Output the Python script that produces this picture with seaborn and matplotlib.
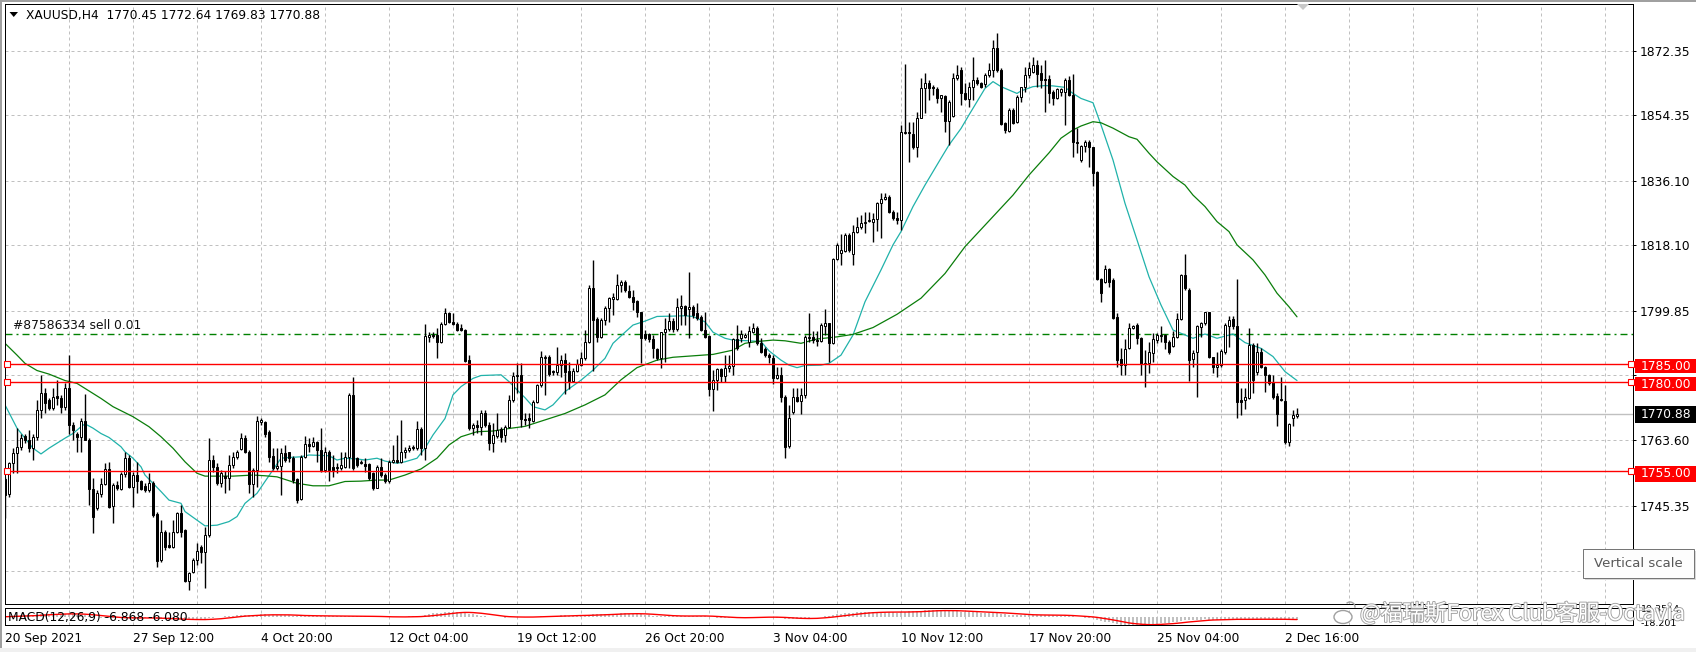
import numpy as np
import pandas as pd
import matplotlib
matplotlib.use("Agg")
import matplotlib.pyplot as plt
import matplotlib.patheffects as pe
import matplotlib.transforms as mtransforms
from matplotlib.patches import Rectangle, Polygon, Ellipse, Arc
import seaborn as sns

# XAUUSD H4 candles, bar 0 = 20 Sep 2021
opens = [
    1752.7, 1748.5, 1757.4, 1760.0, 1761.6, 1764.8, 1763.7, 1761.4, 1764.4, 1772.1,
    1776.7, 1774.9, 1772.5, 1776.0, 1775.5, 1772.8, 1778.1, 1767.9, 1765.5, 1764.4,
    1769.0, 1763.7, 1749.9, 1744.6, 1748.6, 1751.4, 1755.5, 1745.3, 1751.1, 1749.9,
    1754.2, 1758.8, 1750.7, 1753.9, 1752.1, 1750.8, 1749.7, 1751.6, 1742.9, 1730.2,
    1738.1, 1734.4, 1733.9, 1738.1, 1743.2, 1738.5, 1724.4, 1726.7, 1730.2, 1733.9,
    1732.5, 1737.2, 1758.1, 1756.2, 1751.6, 1753.7, 1753.0, 1756.7, 1759.0, 1761.1,
    1764.2, 1760.4, 1751.4, 1755.3, 1768.8, 1768.8, 1766.0, 1759.2, 1755.8, 1756.5,
    1760.0, 1760.2, 1758.6, 1752.7, 1747.2, 1759.0, 1762.7, 1762.1, 1763.2, 1760.9,
    1755.3, 1760.4, 1756.2, 1755.8, 1755.8, 1756.2, 1759.0, 1776.3, 1758.6, 1757.2,
    1756.9, 1756.9, 1754.4, 1750.4, 1756.2, 1753.9, 1752.1, 1757.6, 1758.1, 1757.6,
    1760.2, 1760.9, 1761.7, 1761.4, 1766.9, 1761.5, 1792.6, 1793.0, 1793.0, 1791.0,
    1796.0, 1799.1, 1796.7, 1796.0, 1794.9, 1794.4, 1786.0, 1767.1, 1767.9, 1767.4,
    1771.1, 1767.9, 1762.8, 1764.9, 1766.9, 1765.1, 1767.4, 1774.9, 1781.6, 1781.9,
    1769.6, 1769.7, 1769.0, 1774.4, 1779.1, 1786.5, 1787.0, 1783.0, 1782.6, 1784.6,
    1786.0, 1782.9, 1780.2, 1782.9, 1784.6, 1786.5, 1791.0, 1806.1, 1797.5, 1792.6,
    1797.2, 1800.5, 1803.1, 1803.1, 1807.0, 1807.7, 1805.3, 1803.7, 1802.5, 1799.4,
    1793.2, 1793.2, 1791.9, 1789.1, 1786.5, 1793.8, 1794.7, 1796.9, 1794.7, 1800.7,
    1801.1, 1800.3, 1800.9, 1799.1, 1798.1, 1794.4, 1792.8, 1778.0, 1780.5, 1783.5,
    1781.7, 1783.7, 1784.5, 1791.9, 1792.1, 1792.6, 1791.2, 1793.9, 1794.9, 1790.7,
    1789.1, 1787.4, 1786.7, 1781.1, 1781.9, 1775.8, 1762.1, 1771.4, 1775.8, 1774.6,
    1776.4, 1792.1, 1792.6, 1791.6, 1791.3, 1795.6, 1796.3, 1790.7, 1814.2, 1815.8,
    1816.5, 1821.0, 1815.7, 1821.7, 1823.3, 1824.2, 1824.9, 1824.7, 1825.3, 1829.8,
    1831.0, 1831.7, 1827.5, 1825.6, 1825.1, 1849.4, 1849.8, 1849.1, 1845.4, 1853.7,
    1861.9, 1863.3, 1862.3, 1861.7, 1859.1, 1859.9, 1852.8, 1854.3, 1864.7, 1867.0,
    1860.5, 1858.9, 1862.4, 1864.3, 1863.3, 1863.0, 1865.6, 1867.0, 1873.3, 1867.0,
    1852.1, 1850.0, 1855.9, 1852.4, 1859.6, 1862.2, 1865.6, 1866.6, 1868.4, 1866.1,
    1864.5, 1864.5, 1861.0, 1859.1, 1861.0, 1861.0, 1864.3, 1860.1, 1847.0, 1841.9,
    1845.8, 1847.0, 1845.5, 1838.6, 1808.6, 1807.9, 1811.4, 1808.4, 1798.0, 1786.2,
    1784.6, 1789.3, 1794.9, 1795.8, 1792.1, 1784.9, 1785.3, 1788.1, 1791.6, 1792.8,
    1793.0, 1791.2, 1790.0, 1792.6, 1797.4, 1809.8, 1805.6, 1786.2, 1788.4, 1795.2,
    1796.3, 1799.4, 1786.8, 1784.0, 1784.6, 1788.4, 1795.4, 1797.4, 1795.5, 1774.9,
    1775.0, 1775.3, 1790.2, 1782.8, 1788.4, 1784.2, 1781.9, 1780.0, 1776.0, 1775.1,
    1774.7, 1763.2, 1769.7, 1770.45,
]
highs = [
    1753.4, 1757.6, 1761.4, 1767.0, 1765.5, 1765.5, 1766.5, 1765.5, 1774.9, 1781.9,
    1778.1, 1775.3, 1778.1, 1780.5, 1776.3, 1779.5, 1787.4, 1768.8, 1766.0, 1769.8,
    1776.5, 1764.2, 1753.0, 1749.7, 1753.0, 1757.2, 1757.6, 1751.6, 1752.1, 1754.8,
    1760.4, 1759.5, 1754.8, 1757.6, 1752.6, 1751.6, 1754.4, 1752.1, 1743.7, 1741.3,
    1738.5, 1738.1, 1741.3, 1743.7, 1745.5, 1738.7, 1726.9, 1730.6, 1734.8, 1734.4,
    1739.5, 1764.2, 1759.5, 1757.2, 1755.3, 1755.0, 1759.5, 1760.4, 1761.0, 1765.7,
    1765.0, 1760.9, 1756.0, 1770.5, 1769.8, 1769.0, 1766.5, 1761.4, 1761.4, 1761.4,
    1762.3, 1760.4, 1759.2, 1753.0, 1759.5, 1764.8, 1764.2, 1764.6, 1763.5, 1767.0,
    1761.8, 1761.0, 1759.5, 1757.2, 1760.4, 1760.4, 1776.7, 1781.4, 1759.0, 1758.1,
    1758.6, 1757.2, 1754.8, 1756.7, 1758.6, 1754.4, 1758.1, 1762.3, 1765.1, 1769.3,
    1761.8, 1762.3, 1762.3, 1769.0, 1767.4, 1796.0, 1793.9, 1793.9, 1794.9, 1796.7,
    1800.5, 1799.5, 1799.1, 1796.7, 1796.0, 1794.7, 1787.4, 1768.3, 1769.3, 1772.1,
    1772.1, 1768.8, 1768.3, 1771.1, 1767.4, 1767.9, 1776.3, 1782.8, 1785.1, 1785.1,
    1771.1, 1771.1, 1774.9, 1779.2, 1788.6, 1787.4, 1787.4, 1783.2, 1789.8, 1787.4,
    1787.9, 1785.6, 1783.7, 1786.3, 1788.4, 1794.4, 1807.0, 1814.0, 1798.1, 1797.7,
    1801.0, 1803.7, 1804.7, 1810.0, 1808.4, 1808.4, 1807.0, 1805.6, 1802.8, 1799.5,
    1794.4, 1793.5, 1793.0, 1789.3, 1793.9, 1797.9, 1799.1, 1797.7, 1803.3, 1804.2,
    1801.4, 1810.7, 1801.4, 1801.9, 1798.6, 1799.5, 1793.0, 1783.2, 1783.7, 1783.7,
    1787.4, 1787.4, 1792.3, 1795.8, 1794.4, 1793.5, 1795.4, 1796.3, 1795.4, 1792.1,
    1789.8, 1787.9, 1787.3, 1784.2, 1784.2, 1776.3, 1773.5, 1778.1, 1778.3, 1778.1,
    1793.0, 1799.1, 1794.0, 1794.0, 1796.3, 1800.3, 1796.5, 1814.4, 1818.6, 1821.1,
    1821.4, 1821.4, 1823.7, 1826.1, 1826.5, 1827.4, 1827.4, 1827.0, 1830.3, 1832.6,
    1832.6, 1832.1, 1828.0, 1827.5, 1851.7, 1868.6, 1852.6, 1852.6, 1855.4, 1864.7,
    1866.1, 1864.2, 1862.8, 1862.4, 1860.2, 1860.1, 1858.6, 1866.1, 1868.4, 1868.0,
    1863.3, 1863.8, 1870.8, 1865.2, 1863.8, 1866.1, 1868.9, 1875.4, 1877.3, 1867.5,
    1852.6, 1856.3, 1856.3, 1860.1, 1862.4, 1868.0, 1869.4, 1870.8, 1869.8, 1868.4,
    1869.8, 1865.6, 1861.5, 1861.9, 1862.0, 1864.7, 1865.4, 1865.9, 1850.8, 1846.1,
    1847.5, 1847.5, 1845.6, 1838.9, 1808.9, 1812.6, 1811.7, 1808.9, 1799.1, 1789.3,
    1791.8, 1796.3, 1795.8, 1796.3, 1792.4, 1788.8, 1791.1, 1793.5, 1793.5, 1795.4,
    1793.3, 1791.6, 1794.0, 1799.1, 1810.1, 1815.7, 1806.1, 1788.8, 1795.8, 1796.7,
    1799.5, 1799.5, 1787.0, 1788.4, 1789.0, 1796.3, 1798.3, 1798.3, 1808.8, 1778.1,
    1778.1, 1794.9, 1790.7, 1790.9, 1789.3, 1784.4, 1782.1, 1781.9, 1776.7, 1781.2,
    1779.1, 1768.5, 1772.1, 1772.64,
]
lows = [
    1741.8, 1747.9, 1754.4, 1754.4, 1760.9, 1762.8, 1760.4, 1758.1, 1763.7, 1769.8,
    1771.1, 1772.1, 1772.1, 1773.5, 1771.3, 1772.1, 1765.5, 1763.7, 1760.4, 1760.2,
    1763.7, 1745.5, 1737.6, 1744.1, 1747.9, 1751.1, 1744.6, 1740.4, 1749.7, 1749.7,
    1753.4, 1750.2, 1745.1, 1748.8, 1749.7, 1749.3, 1749.3, 1742.3, 1728.1, 1729.7,
    1733.0, 1733.4, 1733.4, 1737.6, 1736.7, 1724.0, 1721.8, 1726.4, 1728.8, 1729.3,
    1722.3, 1736.7, 1754.8, 1751.1, 1750.7, 1749.0, 1749.7, 1756.0, 1758.5, 1760.8,
    1760.0, 1748.8, 1747.9, 1750.7, 1768.0, 1764.5, 1757.6, 1755.3, 1755.3, 1748.3,
    1757.6, 1757.6, 1751.6, 1746.0, 1746.9, 1758.6, 1760.4, 1761.8, 1757.6, 1754.8,
    1754.8, 1752.1, 1753.4, 1754.4, 1755.3, 1755.8, 1755.8, 1755.3, 1756.2, 1756.9,
    1754.8, 1752.5, 1749.7, 1750.2, 1753.4, 1751.6, 1751.6, 1757.2, 1757.2, 1757.2,
    1758.6, 1760.4, 1760.9, 1760.9, 1759.5, 1758.1, 1791.2, 1792.1, 1786.7, 1790.7,
    1795.8, 1796.3, 1795.8, 1794.1, 1794.1, 1785.6, 1766.5, 1765.1, 1765.6, 1765.1,
    1767.4, 1760.9, 1760.4, 1764.2, 1763.2, 1763.2, 1767.1, 1774.4, 1776.7, 1767.4,
    1767.9, 1767.0, 1768.8, 1773.9, 1778.6, 1776.3, 1781.7, 1781.9, 1781.9, 1781.4,
    1776.5, 1778.0, 1780.0, 1782.8, 1784.5, 1786.0, 1790.7, 1783.0, 1791.2, 1792.1,
    1795.8, 1796.7, 1798.6, 1802.8, 1805.1, 1805.1, 1803.3, 1800.0, 1798.1, 1785.1,
    1791.6, 1791.2, 1786.5, 1786.0, 1783.9, 1785.6, 1794.1, 1793.9, 1794.1, 1795.8,
    1795.8, 1792.3, 1797.7, 1797.2, 1794.1, 1792.1, 1776.1, 1771.9, 1777.7, 1780.0,
    1780.0, 1782.8, 1781.9, 1788.8, 1791.2, 1792.1, 1789.8, 1793.5, 1790.2, 1787.9,
    1787.0, 1785.1, 1779.2, 1780.7, 1774.4, 1758.8, 1761.4, 1770.9, 1774.4, 1770.9,
    1775.3, 1791.2, 1790.7, 1790.0, 1791.2, 1793.0, 1785.4, 1790.4, 1814.0, 1812.6,
    1816.3, 1816.3, 1812.6, 1821.4, 1822.6, 1821.4, 1824.7, 1819.1, 1822.0, 1820.2,
    1830.8, 1827.0, 1825.1, 1823.9, 1822.4, 1849.3, 1841.4, 1845.0, 1842.8, 1853.5,
    1855.0, 1858.7, 1860.1, 1857.7, 1855.2, 1849.6, 1846.1, 1854.0, 1864.2, 1857.3,
    1858.7, 1856.8, 1858.7, 1862.8, 1861.9, 1862.4, 1865.2, 1865.2, 1866.6, 1851.7,
    1849.4, 1849.6, 1851.9, 1852.1, 1858.0, 1861.0, 1864.9, 1866.1, 1862.4, 1862.0,
    1855.2, 1857.7, 1857.3, 1858.9, 1859.8, 1851.7, 1859.8, 1842.8, 1843.8, 1841.4,
    1844.2, 1840.0, 1834.6, 1808.4, 1802.1, 1807.5, 1806.5, 1797.4, 1784.2, 1781.9,
    1781.9, 1789.0, 1794.6, 1790.5, 1781.9, 1778.6, 1782.3, 1785.6, 1790.9, 1791.1,
    1789.0, 1787.7, 1789.6, 1792.1, 1797.2, 1805.6, 1780.3, 1784.0, 1775.8, 1792.6,
    1795.8, 1786.5, 1782.3, 1781.2, 1784.2, 1787.7, 1789.8, 1794.6, 1769.7, 1770.6,
    1772.3, 1775.1, 1776.9, 1781.8, 1783.7, 1777.2, 1779.0, 1775.1, 1767.6, 1774.6,
    1762.6, 1762.0, 1767.6, 1769.83,
]
closes = [
    1748.3, 1757.4, 1760.0, 1761.6, 1764.2, 1763.7, 1761.4, 1764.4, 1772.1, 1776.7,
    1774.1, 1772.5, 1775.8, 1775.5, 1772.8, 1778.1, 1767.9, 1766.5, 1764.4, 1769.0,
    1763.7, 1749.9, 1742.3, 1748.8, 1751.4, 1755.5, 1745.1, 1751.1, 1750.4, 1754.2,
    1758.8, 1750.7, 1753.9, 1752.1, 1749.9, 1749.7, 1751.6, 1742.7, 1730.0, 1738.1,
    1733.9, 1733.9, 1738.1, 1743.2, 1738.1, 1724.4, 1726.4, 1730.2, 1732.8, 1732.5,
    1737.2, 1758.1, 1756.2, 1751.6, 1754.4, 1753.2, 1756.7, 1759.0, 1760.2, 1764.2,
    1760.4, 1751.4, 1755.3, 1769.0, 1769.4, 1765.5, 1759.0, 1755.8, 1756.5, 1760.0,
    1758.1, 1758.6, 1752.5, 1746.9, 1759.0, 1762.5, 1762.1, 1763.2, 1760.9, 1755.3,
    1760.4, 1755.3, 1755.3, 1756.2, 1756.7, 1759.0, 1776.3, 1755.8, 1756.7, 1757.6,
    1756.5, 1753.0, 1750.2, 1756.2, 1753.9, 1752.1, 1757.6, 1758.1, 1757.6, 1760.4,
    1760.9, 1761.5, 1761.4, 1766.9, 1761.5, 1792.8, 1793.0, 1792.8, 1791.0, 1796.0,
    1799.1, 1796.7, 1796.0, 1794.4, 1794.4, 1785.8, 1767.1, 1767.9, 1767.4, 1771.1,
    1767.9, 1762.8, 1765.1, 1766.5, 1764.6, 1767.4, 1774.9, 1781.6, 1781.9, 1769.6,
    1769.3, 1769.3, 1774.4, 1779.1, 1787.0, 1787.0, 1782.0, 1782.6, 1784.6, 1786.0,
    1782.8, 1780.2, 1782.9, 1784.8, 1786.5, 1791.0, 1806.1, 1797.2, 1792.6, 1797.2,
    1800.5, 1803.3, 1803.5, 1807.0, 1807.7, 1805.6, 1803.5, 1802.3, 1799.4, 1792.1,
    1792.1, 1791.8, 1789.3, 1786.5, 1793.8, 1794.7, 1796.9, 1794.7, 1800.9, 1801.1,
    1798.6, 1800.9, 1798.6, 1797.9, 1794.4, 1792.6, 1778.0, 1780.5, 1783.5, 1781.7,
    1783.7, 1784.5, 1791.9, 1789.3, 1793.2, 1793.0, 1794.1, 1794.9, 1790.7, 1788.4,
    1787.4, 1787.0, 1781.1, 1781.9, 1775.8, 1761.8, 1769.7, 1775.8, 1774.6, 1776.4,
    1792.6, 1792.6, 1791.6, 1791.3, 1795.8, 1796.3, 1790.7, 1814.2, 1818.2, 1816.8,
    1821.0, 1816.8, 1821.9, 1823.3, 1824.2, 1824.7, 1825.1, 1825.3, 1829.8, 1831.0,
    1831.7, 1827.5, 1825.6, 1825.1, 1849.6, 1849.8, 1849.4, 1845.4, 1853.7, 1861.9,
    1863.3, 1862.1, 1861.9, 1859.1, 1860.1, 1852.8, 1858.2, 1864.7, 1865.6, 1860.5,
    1858.9, 1862.4, 1864.3, 1863.3, 1862.4, 1865.6, 1867.0, 1873.3, 1867.0, 1851.9,
    1850.3, 1855.9, 1852.1, 1859.6, 1862.2, 1865.6, 1867.5, 1868.4, 1865.9, 1864.3,
    1864.3, 1860.5, 1859.1, 1861.7, 1861.7, 1864.3, 1860.1, 1846.8, 1846.6, 1845.8,
    1847.0, 1845.5, 1838.4, 1808.6, 1804.7, 1811.4, 1807.9, 1797.7, 1786.0, 1784.6,
    1789.0, 1794.9, 1795.5, 1792.1, 1784.9, 1785.3, 1788.4, 1791.8, 1793.0, 1793.0,
    1791.2, 1788.4, 1792.6, 1797.4, 1809.8, 1806.1, 1786.0, 1788.1, 1795.4, 1796.3,
    1799.4, 1786.8, 1784.0, 1784.6, 1788.6, 1795.8, 1797.2, 1795.5, 1774.4, 1774.4,
    1775.8, 1790.2, 1780.4, 1788.4, 1784.2, 1781.9, 1779.7, 1775.8, 1771.0, 1774.9,
    1763.2, 1768.2, 1770.7, 1770.88,
]

# moving averages as drawn (bar index, price)
ma_fast_bar = [0, 3, 5, 7, 9, 11, 13, 15, 17, 19, 20, 22, 24, 26, 29, 30, 32, 34, 35, 37,
               39, 41, 44, 45, 48, 50, 53, 56, 58, 60, 63, 65, 69, 71, 74, 76, 81, 83, 85, 88,
               90, 93, 95, 98, 100, 103, 105, 107, 110, 112, 114, 117, 119, 124, 126, 128, 130, 132, 135, 137,
               140, 144, 147, 150, 152, 155, 157, 160, 163, 167, 170, 172, 175, 177, 180, 182, 186, 189, 191, 194,
               196, 198, 200, 204, 206, 209, 212, 215, 219, 222, 224, 227, 230, 234, 236, 239, 241, 243, 245, 247,
               249, 253, 254, 257, 260, 262, 265, 267, 269, 272, 274, 277, 280, 283, 286, 289, 292, 294, 297, 300,
               303, 307, 310, 314, 317, 320, 323]
ma_fast_val = [1773.5, 1767.0, 1764.2, 1761.4, 1759.8, 1761.4, 1762.8, 1764.2, 1765.5, 1767.4,
               1768.2, 1767.0, 1765.5, 1764.4, 1761.8, 1760.4, 1758.6, 1756.2, 1753.9, 1751.6,
               1749.3, 1746.9, 1746.0, 1743.7, 1741.3, 1739.7, 1739.9, 1740.9, 1742.3, 1746.0,
               1748.8, 1752.1, 1758.6, 1758.8, 1759.0, 1759.5, 1759.3, 1758.1, 1758.6, 1758.4,
               1758.1, 1758.6, 1757.8, 1757.2, 1757.6, 1758.6, 1761.4, 1765.1, 1769.7, 1776.3,
               1778.6, 1780.9, 1781.7, 1781.9, 1780.0, 1777.7, 1775.5, 1773.0, 1772.1, 1773.5,
               1777.2, 1780.4, 1783.2, 1786.5, 1790.7, 1793.8, 1795.8, 1796.9, 1798.2, 1798.3,
               1798.4, 1798.2, 1796.7, 1793.8, 1792.1, 1791.6, 1791.4, 1791.2, 1788.6, 1786.0,
               1784.6, 1783.9, 1784.5, 1784.6, 1785.1, 1787.4, 1793.0, 1802.3, 1811.2, 1818.2,
               1821.9, 1828.9, 1834.9, 1842.4, 1846.1, 1850.7, 1854.5, 1858.2, 1861.9, 1863.8,
               1862.4, 1860.5, 1861.2, 1862.4, 1862.7, 1862.6, 1862.2, 1860.5, 1859.1, 1857.9,
               1851.7, 1841.9, 1829.8, 1819.6, 1809.3, 1801.4, 1794.4, 1793.5, 1792.1, 1793.3,
               1792.1, 1793.3, 1790.9, 1789.3, 1787.0, 1782.8, 1780.3]
ma_slow_bar = [0, 3, 5, 8, 11, 15, 18, 20, 24, 27, 32, 36, 39, 42, 45, 48, 50, 57, 62, 65,
               68, 73, 77, 81, 85, 89, 93, 96, 100, 104, 108, 111, 114, 118, 122, 126, 130, 135, 140, 145,
               150, 154, 158, 163, 167, 172, 177, 182, 185, 188, 192, 195, 199, 203, 208, 212, 217, 223, 229, 235,
               240, 245, 252, 256, 261, 264, 267, 269, 272, 274, 277, 281, 283, 286, 288, 292, 295, 297, 300, 303,
               306, 308, 312, 315, 318, 321, 323]
ma_slow_val = [1790.7, 1787.4, 1785.1, 1783.1, 1782.1, 1780.3, 1779.5, 1778.1, 1775.3, 1773.0,
               1770.2, 1767.4, 1764.6, 1761.4, 1757.6, 1754.4, 1753.6, 1753.6, 1753.9, 1753.7,
               1753.4, 1751.6, 1750.9, 1750.9, 1752.1, 1752.2, 1752.5, 1752.5, 1753.9, 1755.6,
               1758.6, 1762.3, 1764.6, 1766.0, 1766.2, 1766.9, 1767.5, 1769.3, 1771.1, 1773.5,
               1776.3, 1780.5, 1783.9, 1786.0, 1786.8, 1787.2, 1787.6, 1788.8, 1790.7, 1791.2,
               1791.6, 1791.4, 1790.7, 1791.9, 1792.5, 1793.2, 1795.1, 1798.8, 1803.3, 1810.2,
               1817.7, 1823.7, 1832.1, 1837.7, 1843.9, 1848.0, 1850.3, 1851.4, 1852.6, 1852.3,
               1850.8, 1848.4, 1847.7, 1843.8, 1841.4, 1837.3, 1834.9, 1832.1, 1828.9, 1824.7,
               1821.9, 1818.2, 1814.0, 1809.8, 1804.7, 1800.9, 1798.1]

price_ticks = [1872.35, 1854.35, 1836.10, 1818.10, 1799.85, 1781.85, 1763.60, 1745.35, 1727.10]
price_tick_labels = ["1872.35", "1854.35", "1836.10", "1818.10", "1799.85", "", "1763.60", "1745.35", ""]
level_lines = [1785.00, 1780.00, 1755.00]
order_price = 1793.3
last_price = 1770.88
time_bars = [0, 32, 64, 96, 128, 160, 192, 224, 256, 288, 320]
time_labels = ["20 Sep 2021", "27 Sep 12:00", "4 Oct 20:00", "12 Oct 04:00", "19 Oct 12:00",
               "26 Oct 20:00", "3 Nov 04:00", "10 Nov 12:00", "17 Nov 20:00", "25 Nov 04:00",
               "2 Dec 16:00"]

assert len(opens) == len(highs) == len(lows) == len(closes)

sns.set_style("white")
plt.rcParams['font.family'] = ['DejaVu Sans', 'Noto Sans CJK SC']
plt.rcParams['lines.scale_dashes'] = False

W, H = 1696, 652
PX = 0.72  # one pixel in points at dpi 100
FS = 8.8


def fx(px):
    return px / W


def fy(py):
    return 1 - py / H


fig = plt.figure(figsize=(W / 100, H / 100), dpi=100)
fig.patch.set_facecolor("white")
ax = fig.add_axes([fx(4.5), fy(604), fx(1633) - fx(4.5), fy(4) - fy(604)])
axm = fig.add_axes([fx(4.5), fy(625), fx(1633) - fx(4.5), fy(608) - fy(625)])

idx = np.arange(len(closes))
o = np.array(opens)
h = np.array(highs)
l = np.array(lows)
c = np.array(closes)
up = c >= o

# grid
grid_bars = list(range(16, 407, 16))
ax.set_xticks(grid_bars)
ax.set_yticks(price_ticks)
ax.set_yticklabels(price_tick_labels)
ax.grid(True, color="#c0c0c0", linestyle=(0, (3 * PX, 3 * PX)), linewidth=PX)
ax.set_axisbelow(True)

# moving averages
sns.lineplot(x=ma_fast_bar, y=ma_fast_val, ax=ax, color="#20b2aa", linewidth=0.9, zorder=2)
sns.lineplot(x=ma_slow_bar, y=ma_slow_val, ax=ax, color="#0a7d0a", linewidth=0.9, zorder=2)

# levels
ax.axhline(last_price, color="#c0c0c0", linewidth=1.0, zorder=1.5)
ax.axhline(order_price, color="#008000", linewidth=1.0,
           linestyle=(0, (7 * PX, 4 * PX, 2 * PX, 4 * PX)), zorder=1.6)
for lv in level_lines:
    ax.axhline(lv, color="#ff0000", linewidth=1.0, zorder=4)
    ax.plot([0.6, 406.4], [lv, lv], linestyle="none", marker="s", markersize=4.2,
            markerfacecolor="white", markeredgecolor="#ff0000", markeredgewidth=0.8,
            zorder=5, clip_on=False)
ax.text(2.0, 1795.6, "#87586334 sell 0.01", fontsize=FS, color="#101010",
        ha="left", va="center", zorder=6)

# candles
ax.vlines(idx, l, h, color="black", linewidth=1.0, zorder=3)
ax.bar(idx[up], (c - o)[up], bottom=o[up], width=0.5, facecolor="white",
       edgecolor="black", linewidth=PX, zorder=3.5)
ax.bar(idx[~up], (o - c)[~up], bottom=c[~up], width=0.5, facecolor="black",
       edgecolor="black", linewidth=PX, zorder=3.5)

ax.set_xlim(-0.125, 407)
ax.set_ylim(1717.88, 1885.48)
ax.set_xlabel("")
ax.set_ylabel("")
ax.yaxis.tick_right()
ax.tick_params(axis="x", length=0, labelbottom=False)
ax.tick_params(axis="y", which="major", right=True, left=False, labelright=True,
               labelleft=False, length=3 * PX, width=PX, pad=3, labelsize=FS,
               colors="black", direction="out")
for s in ax.spines.values():
    s.set_color("black")
    s.set_linewidth(PX)

# MACD pane, computed from the closes
close_s = pd.Series(closes)
macd_main = close_s.ewm(span=12, adjust=False).mean() - close_s.ewm(span=26, adjust=False).mean()
macd_signal = macd_main.rolling(9, min_periods=1).mean()
axm.bar(idx, macd_main.values, width=0.5, color="#c0c0c0", linewidth=0)
sns.lineplot(x=idx, y=macd_signal.values, ax=axm, color="#ff0000", linewidth=1.0)
for gb in grid_bars:
    axm.axvline(gb, color="#c0c0c0", linestyle=(0, (3 * PX, 3 * PX)), linewidth=PX, zorder=0)
axm.set_xlim(-0.125, 407)
axm.set_ylim(-18.201, 19.35)
axm.set_yticks([])
axm.set_xlabel("")
axm.set_ylabel("")
axm.set_xticks(time_bars)
axm.set_xticklabels(time_labels)
for lbl in axm.get_xticklabels():
    lbl.set_ha("left")
axm.tick_params(axis="x", length=3 * PX, width=PX, pad=3, labelsize=FS,
                colors="black", direction="out")
for s in axm.spines.values():
    s.set_color("black")
    s.set_linewidth(PX)
fig.text(fx(8), fy(617), "MACD(12,26,9) -6.868 -6.080", fontsize=FS, ha="left",
         va="center", color="black")
fig.text(fx(1641), fy(610), "19.3514", fontsize=6.8, ha="left", va="center", color="black")
fig.text(fx(1641), fy(623), "-18.201", fontsize=6.8, ha="left", va="center", color="black")

# price boxes on the right scale
blend = mtransforms.blended_transform_factory(fig.transFigure, ax.transData)
PPU = 3.58  # pixels per price unit
for val, face, off, hp in [(1785.00, "#ff0000", 2.7, 14), (1780.00, "#ff0000", 2.7, 14),
                           (last_price, "#000000", 0.5, 17), (1755.00, "#ff0000", 2.7, 16)]:
    cy = val - off / PPU
    hh = hp / PPU
    ax.add_patch(Rectangle((fx(1635), cy - hh / 2), fx(1696) - fx(1635), hh,
                           transform=blend, facecolor=face, edgecolor="none",
                           clip_on=False, zorder=7))
    ax.text(fx(1641), cy, f"{val:.2f}", transform=blend, color="white", fontsize=FS,
            ha="left", va="center", clip_on=False, zorder=8)

# header
fig.text(fx(26), fy(15.5), "XAUUSD,H4  1770.45 1772.64 1769.83 1770.88",
         fontsize=FS, ha="left", va="center", color="black")
fig.add_artist(Polygon([(fx(9.5), fy(12)), (fx(18), fy(12)), (fx(13.75), fy(17))],
                       closed=True, transform=fig.transFigure, facecolor="black",
                       edgecolor="none"))
# chart shift marker
fig.add_artist(Polygon([(fx(1297), fy(4)), (fx(1309), fy(4)), (fx(1303), fy(10))],
                       closed=True, transform=fig.transFigure, facecolor="#c8c8c8",
                       edgecolor="none"))

# tooltip
fig.add_artist(Rectangle((fx(1585), fy(580)), fx(1696) - fx(1585), fy(551) - fy(580),
                         transform=fig.transFigure, facecolor="#d8d8d8", edgecolor="none"))
fig.add_artist(Rectangle((fx(1583), fy(578)), fx(1694) - fx(1583), fy(549) - fy(578),
                         transform=fig.transFigure, facecolor="#fdfdfd",
                         edgecolor="#767676", linewidth=PX))
fig.text(fx(1638.5), fy(563.5), "Vertical scale", fontsize=9.5, ha="center",
         va="center", color="#575757")

# watermark with a rough weibo mark
fig.add_artist(Ellipse((fx(1343), fy(617)), fx(18), fy(600) - fy(613), transform=fig.transFigure,
                       facecolor="white", edgecolor="#a0a0a0", linewidth=1.0, zorder=10))
fig.add_artist(Arc((fx(1350), fy(607)), fx(10), fy(600) - fy(610), theta1=-20, theta2=110,
                   transform=fig.transFigure, edgecolor="#a0a0a0", linewidth=1.0, zorder=10))
fig.text(fx(1360), fy(614), "@福瑞斯Forex Club客服-Octavia",
         family=["Noto Sans CJK SC", "DejaVu Sans"], fontsize=15.8, ha="left",
         va="center", color="white",
         path_effects=[pe.withStroke(linewidth=1.3, foreground="#a0a0a0")], zorder=10)

# window border
fig.add_artist(Rectangle((0, fy(1.5)), 1, fy(0) - fy(1.5), transform=fig.transFigure,
                         facecolor="#a0a0a0", edgecolor="none"))
fig.add_artist(Rectangle((0, 0), fx(2), 1, transform=fig.transFigure,
                         facecolor="#a0a0a0", edgecolor="none"))
fig.add_artist(Rectangle((0, 0), 1, fy(648) - fy(652), transform=fig.transFigure,
                         facecolor="#f0f0f0", edgecolor="none"))

fig.savefig("out.png", dpi=100)
